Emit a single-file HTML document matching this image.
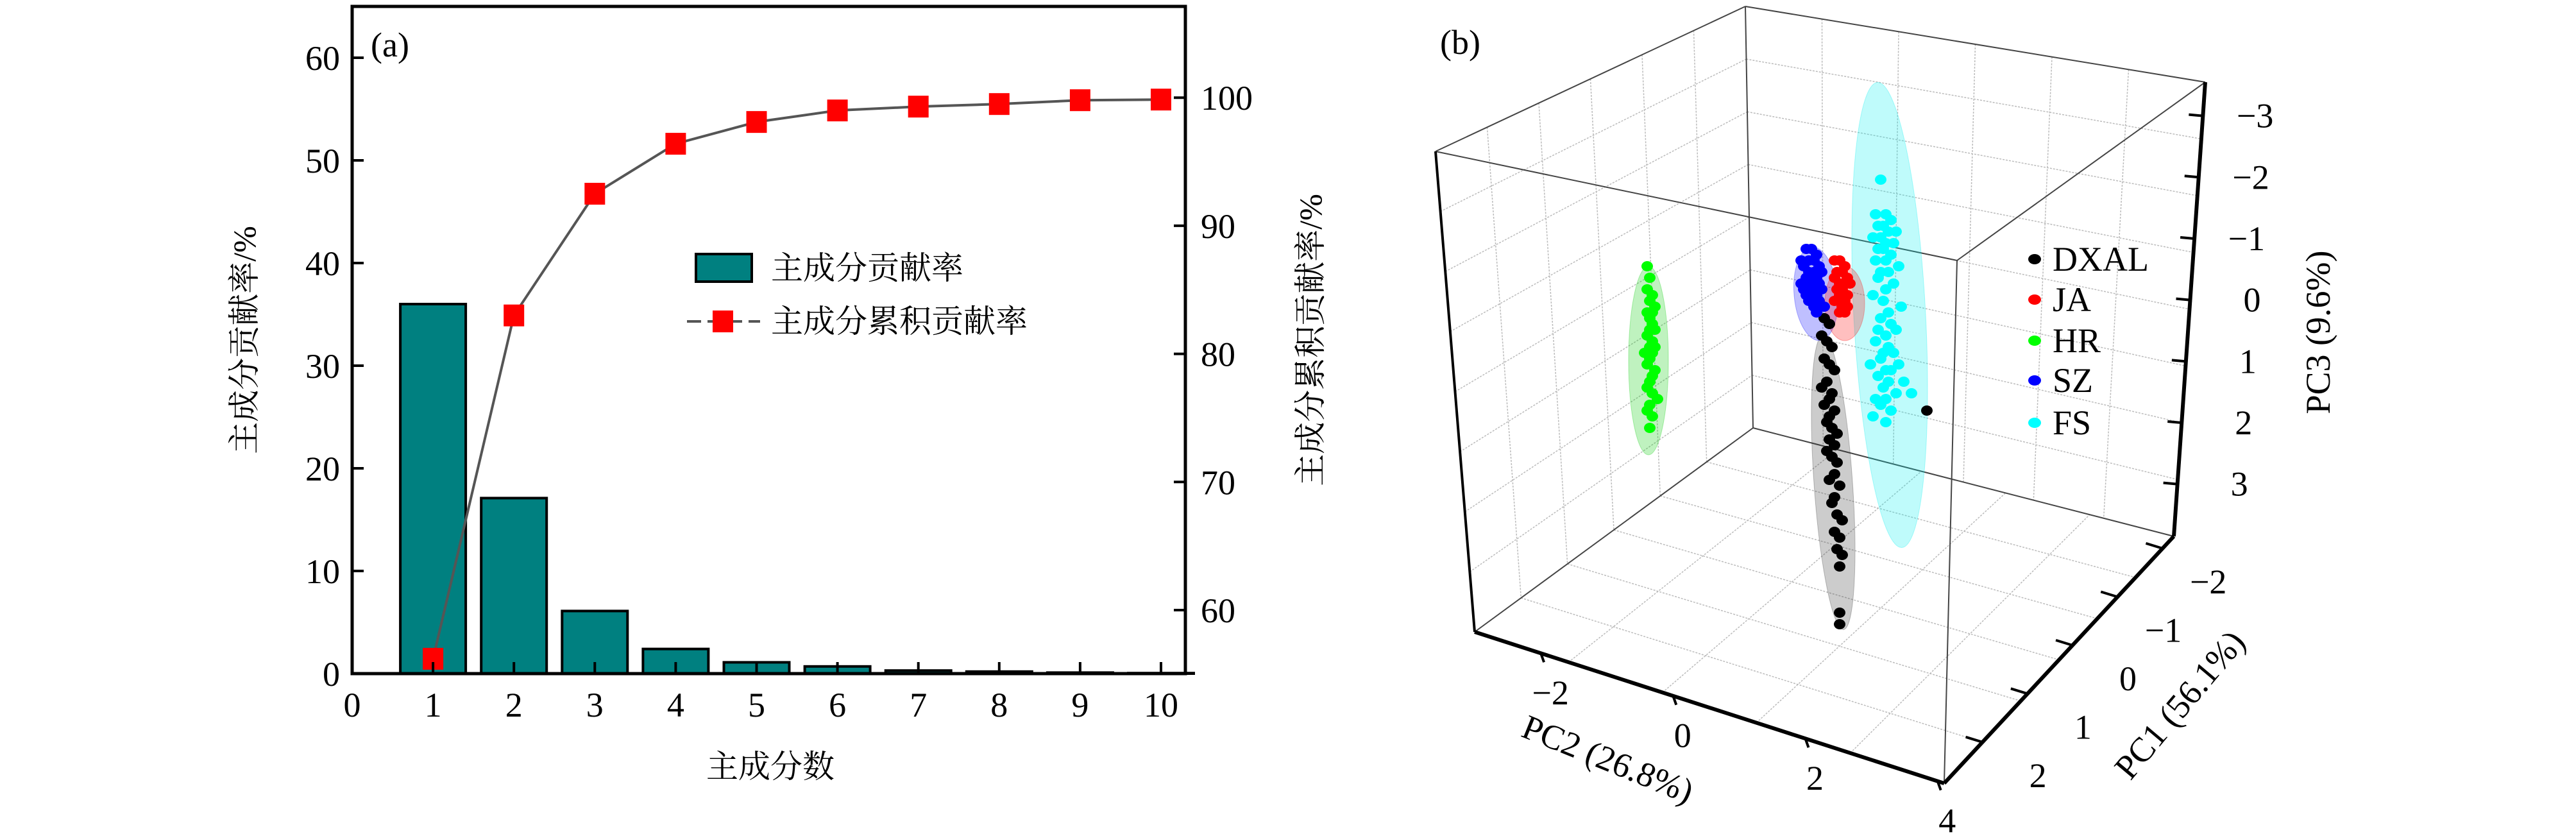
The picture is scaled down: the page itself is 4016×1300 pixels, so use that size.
<!DOCTYPE html>
<html><head><meta charset="utf-8"><style>
html,body{margin:0;padding:0;background:#fff;}
svg{display:block;}
.num{font-family:"Liberation Serif",serif;font-size:54px;fill:#000;}
.cjk{font-family:"Liberation Serif","Noto Serif CJK SC",serif;font-size:50px;fill:#000;}
</style></head><body>
<svg id="svg" width="4016" height="1300" viewBox="0 0 4016 1300" xmlns="http://www.w3.org/2000/svg">
<g id="left"></g>
<g id="right"></g>
</svg>
<script>
// ---------- Left chart data ----------
const components = [1,2,3,4,5,6,7,8,9,10];
const contribution = [36,17.1,6.1,2.4,1.1,0.7,0.3,0.2,0.1,0.05];
const cumulative = [56.2,83.0,92.5,96.4,98.1,99.0,99.3,99.5,99.8,99.85];
const xTicks = [0,1,2,3,4,5,6,7,8,9,10];
const yLeftTicks = [0,10,20,30,40,50,60];
const yRightTicks = [60,70,80,90,100];

// ---------- Right chart data (projected coords u,v) ----------
const hrU=[-33,-32,-33,-31,-32,-30,-31,-33,-32,-31,-30,-32,-33,-31,-30,-32,-34,-31,-32,-33,-30,-31,-32,-33,-31,-29,-32,-33,-31,-32];
const hrV=[35,37,39,40,41,42,43,43,44,45,46,46,47,48,49,49,50,50,51,52,53,54,55,56,57,58,59,60,61,63];
const szU=[29,31,33,27,30,32,34,28,30,32,35,29,31,33,27,30,34,28,32,35,29,31,33,30,34,32,36,33];
const szV=[32,32,33,34,34,34,35,35,36,36,36,37,37,37,38,38,38,39,39,39,40,40,40,41,41,42,42,43];
const jaU=[40,42,44,41,43,45,40,42,44,46,41,43,45,42,44,40,43,45,42,44];
const jaV=[34,34,35,36,36,37,37,38,38,38,39,39,40,40,41,41,42,42,43,43];
const dxU=[36,38,35,37,39,36,38,40,37,35,39,38,36,40,38,37,39,41,38,40,37,39,41,40,38,42,40,39,41,43,40,42,41,43,42,76,42,42];
const dxV=[44,45,47,48,49,51,52,53,55,56,57,58,59,60,61,62,63,64,65,66,67,68,69,71,72,73,75,76,78,79,81,82,84,85,87,60,95,97];
const fsU=[58,56,60,62,57,59,61,64,55,58,60,63,57,59,62,56,60,65,58,61,57,63,60,55,59,66,61,58,62,57,64,60,56,61,59,63,58,65,54,60,62,57,67,61,59,64,56,60,70,58,62,55,60];
const fsV=[20,26,26,27,28,28,29,29,30,30,31,31,32,32,33,34,34,35,36,36,37,38,39,40,41,42,43,44,45,46,46,47,48,49,50,50,51,52,52,53,53,54,55,55,56,57,58,58,57,59,60,61,62];
const pc3Ticks=[-3,-2,-1,0,1,2,3];
const pc1Ticks=[-2,-1,0,1,2];
const pc2Ticks=[-2,0,2,4];
const groupNames=["DXAL","JA","HR","SZ","FS"];

const NS="http://www.w3.org/2000/svg";
function mk(parent,tag,attrs,name,text){
  const e=document.createElementNS(NS,tag);
  for(const k in attrs)e.setAttribute(k,attrs[k]);
  
  
  if(text!==undefined)e.textContent=text;
  parent.appendChild(e);return e;
}
// ---------- Left chart ----------
const L=document.getElementById('left');
const X0=549,XD=1810,X1=1848,Y0=1050,Y1=10;
const xs=v=>X0+(XD-X0)*v/10;
const yl=v=>Y0-16.0*v;
const yr=v=>951-19.97*(v-60);
contribution.forEach((v,i)=>{
  const cx=xs(components[i]);
  mk(L,'rect',{x:cx-51,y:yl(v),width:102,height:Y0-yl(v),fill:'#008080',stroke:'#000','stroke-width':4},'bar-pc'+components[i]);
});
let d='';
cumulative.forEach((v,i)=>{d+=(i?'L':'M')+xs(components[i])+','+yr(v);});
mk(L,'path',{d:d,fill:'none',stroke:'#555','stroke-width':4},'cumulative-line');
cumulative.forEach((v,i)=>{
  mk(L,'rect',{x:xs(components[i])-16,y:yr(v)-17,width:32,height:34,fill:'#f00'},'cumulative-marker-'+components[i]);
});
mk(L,'rect',{x:X0,y:Y1,width:X1-X0,height:Y0-Y1,fill:'none',stroke:'#000','stroke-width':5},'plot-frame');
xTicks.forEach(t=>{
  mk(L,'line',{x1:xs(t),x2:xs(t),y1:Y0,y2:Y0-18,stroke:'#000','stroke-width':4},'x-tick');
  mk(L,'text',{x:xs(t),y:1117,'text-anchor':'middle',class:'num'},'x-tick-label',String(t));
});
yLeftTicks.forEach(t=>{
  mk(L,'line',{x1:X0,x2:X0+18,y1:yl(t),y2:yl(t),stroke:'#000','stroke-width':4},'y-left-tick');
  mk(L,'text',{x:530,y:yl(t)+19,'text-anchor':'end',class:'num'},'y-left-tick-label',String(t));
});
yRightTicks.forEach(t=>{
  mk(L,'line',{x1:X1,x2:X1-18,y1:yr(t),y2:yr(t),stroke:'#000','stroke-width':4},'y-right-tick');
  mk(L,'text',{x:1872,y:yr(t)+19,'text-anchor':'start',class:'num'},'y-right-tick-label',String(t));
});
mk(L,'text',{x:1201,y:1212,'text-anchor':'middle',class:'cjk'},'x-axis-title','主成分数');
mk(L,'text',{x:0,y:0,'text-anchor':'middle',class:'cjk',transform:'translate(398,530) rotate(-90)'},'y-left-axis-title','主成分贡献率/%');
mk(L,'text',{x:0,y:0,'text-anchor':'middle',class:'cjk',transform:'translate(2060,530) rotate(-90)'},'y-right-axis-title','主成分累积贡献率/%');
mk(L,'text',{x:578,y:88,class:'num','font-size':'50'},'panel-label-a','(a)');
mk(L,'rect',{x:1085,y:396,width:87,height:43,fill:'#008080',stroke:'#000','stroke-width':4},'legend-bar-swatch');
mk(L,'text',{x:1202,y:435,class:'cjk'},'legend-bar-label','主成分贡献率');
mk(L,'line',{x1:1071,x2:1185,y1:501,y2:501,stroke:'#555','stroke-width':4,'stroke-dasharray':'22,10'},'legend-line-swatch');
mk(L,'rect',{x:1111,y:484,width:32,height:34,fill:'#f00'},'legend-line-marker');
mk(L,'text',{x:1202,y:518,class:'cjk'},'legend-line-label','主成分累积贡献率');

// ---------- Right chart ----------
const R=document.getElementById('right');
const P={A:[2238,236],B:[2721,10],C:[3438,128],D:[3051,406],E:[2299,985],F:[3031,1221],G:[3389,836],H:[2733,667]};
const lerp=(p,q,t)=>[p[0]+(q[0]-p[0])*t,p[1]+(q[1]-p[1])*t];
function ln(p,q,w,c,name,dash){const a={x1:p[0],y1:p[1],x2:q[0],y2:q[1],stroke:c,'stroke-width':w};if(dash)a['stroke-dasharray']=dash;mk(R,'line',a,name);}
function wallGrid(p00,p10,p01,p11,n,m,name){
  for(let i=1;i<n;i++){const t=i/n;ln(lerp(p00,p01,t),lerp(p10,p11,t),1.5,'#bbb',name,'3,2');}
  for(let j=1;j<m;j++){const t=j/m;ln(lerp(p00,p10,t),lerp(p01,p11,t),1.5,'#bbb',name,'3,2');}
}
wallGrid(P.B,P.H,P.C,P.G,6,8,'back-wall-grid');
wallGrid(P.A,P.E,P.B,P.H,6,8,'side-wall-grid');
wallGrid(P.E,P.F,P.H,P.G,6,5,'floor-grid');
[['A','B'],['B','C'],['A','D'],['D','C'],['B','H'],['D','F'],['E','H'],['H','G']].forEach(e=>ln(P[e[0]],P[e[1]],2,'#444','box-edge'));
ln(P.A,P.E,4,'#000','left-edge');
ln(P.C,P.G,6,'#000','pc3-axis');
ln(P.E,P.F,6,'#000','pc2-axis');
ln(P.F,P.G,6,'#000','pc1-axis');
pc3Ticks.forEach(t=>{
  const p=lerp(P.C,P.G,(t+3.55)/7.4);
  ln(p,[p[0]-22,p[1]-2],4,'#000','pc3-tick');
  mk(R,'text',{x:p[0]+110,y:p[1]+18,'text-anchor':'end',class:'num'},'pc3-tick-label',(t<0?'−':'')+Math.abs(t));
});
pc1Ticks.forEach(t=>{
  const p=lerp(P.G,P.F,(t+2.25)/5.1);
  ln(p,[p[0]-26,p[1]-8],4,'#000','pc1-tick');
  mk(R,'text',{x:p[0]+100,y:p[1]+70,'text-anchor':'end',class:'num'},'pc1-tick-label',(t<0?'−':'')+Math.abs(t));
});
pc2Ticks.forEach(t=>{
  const p=lerp(P.E,P.F,(t+3)/7.1);
  ln(p,[p[0]+5,p[1]+14],4,'#000','pc2-tick');
  mk(R,'text',{x:p[0]+15,y:p[1]+80,'text-anchor':'middle',class:'num'},'pc2-tick-label',(t<0?'−':'')+Math.abs(t));
});
mk(R,'text',{x:0,y:0,'text-anchor':'middle',class:'num',transform:'translate(3632,518) rotate(-90)'},'pc3-axis-title','PC3 (9.6%)');
mk(R,'text',{x:0,y:0,'text-anchor':'middle',class:'num',transform:'translate(3412,1110) rotate(-50)'},'pc1-axis-title','PC1 (56.1%)');
mk(R,'text',{x:0,y:0,'text-anchor':'middle',class:'num',transform:'translate(2500,1200) rotate(22)'},'pc2-axis-title','PC2 (26.8%)');
mk(R,'text',{x:2245,y:84,class:'num','font-size':'50'},'panel-label-b','(b)');
const su=u=>2700+4*u, sv=v=>100+9*v;
function ellipse(cx,cy,rx,ry,rot,col,name){mk(R,'ellipse',{cx:cx,cy:cy,rx:rx,ry:ry,fill:col,'fill-opacity':0.25,stroke:col,'stroke-opacity':0.3,transform:`rotate(${rot} ${cx} ${cy})`},name);}
ellipse(2570,562,31,147,0,'#0c0','hr-ellipse');
ellipse(2946,491,56,363,-3,'#0ee','fs-ellipse');
ellipse(2858,752,30,230,-4,'#333','dxal-ellipse');
ellipse(2831,458,34,73,-5,'#00f','sz-ellipse');
ellipse(2876,473,31,58,0,'#f00','ja-ellipse');
function pts(U,V,col,name){U.forEach((u,i)=>{mk(R,'ellipse',{cx:su(u),cy:sv(V[i]),rx:9,ry:8,fill:col},name);});}
pts(hrU,hrV,'#0f0','hr-point');
pts(fsU,fsV,'#0ff','fs-point');
pts(dxU,dxV,'#000','dxal-point');
pts(jaU,jaV,'#f00','ja-point');
pts(szU,szV,'#00f','sz-point');
const lc=['#000','#f00','#0f0','#00f','#0ff'];
const ly=[404,467,531,593,659];
groupNames.forEach((g,i)=>{
  mk(R,'ellipse',{cx:3172,cy:ly[i],rx:10,ry:8,fill:lc[i]},'legend-marker-'+g.toLowerCase());
  mk(R,'text',{x:3200,y:ly[i]+18,class:'num'},'legend-label-'+g.toLowerCase(),g);
});
</script>
</body></html>
